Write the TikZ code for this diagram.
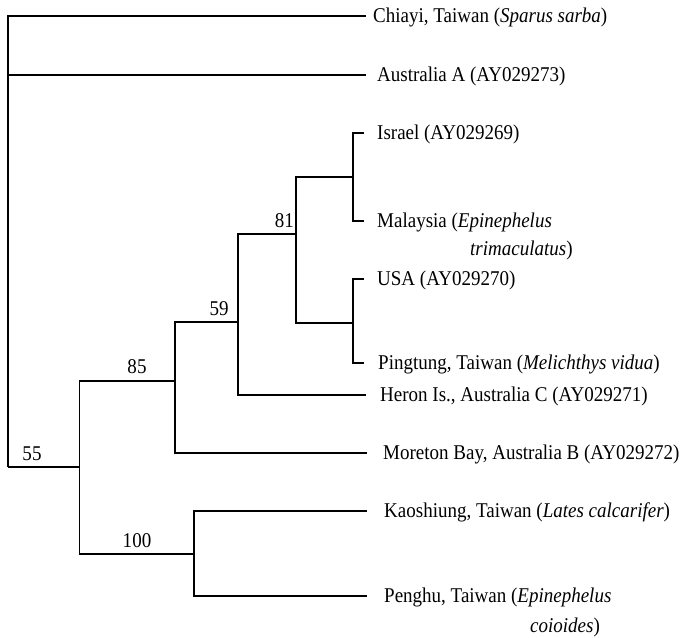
\documentclass[tikz,border=0pt]{standalone}
\usepackage{fontspec}
\setmainfont{Liberation Serif}
\newcommand\lbl[1]{\scalebox{0.905}[1]{#1}}
\begin{document}
\begin{tikzpicture}[x=1pt,y=-1pt,
  branch/.style={line width=1.1pt, black},
  leaf/.style={anchor=base west, inner sep=0pt, font=\fontsize{21}{24}\selectfont},
  boot/.style={anchor=base, inner sep=0pt, font=\fontsize{21}{24}\selectfont}]
\fill[white] (0,0) rectangle (682,637);
\useasboundingbox (0,0) rectangle (682,637);
% leaf tips
\coordinate (chi) at (366,16);
\coordinate (ausA) at (366,75);
\coordinate (isr) at (364,133);
\coordinate (mal) at (364,221);
\coordinate (usa) at (364,279);
\coordinate (pin) at (364,363);
\coordinate (her) at (366,395);
\coordinate (mor) at (367,453);
\coordinate (kao) at (367,511);
\coordinate (pen) at (367,596);
% internal nodes
\coordinate (root) at (8,467);
\coordinate (n55) at (79.5,467);
\coordinate (n85) at (175,381);
\coordinate (n100) at (194,554);
\coordinate (n59) at (238,322);
\coordinate (n81) at (296,234);
\coordinate (nIM) at (353,177);
\coordinate (nUP) at (353,323);
% branches
\draw[branch] (root) |- (chi);
\draw[branch] (root) |- (ausA);
\draw[branch] (root) -- (n55);
\draw[branch] (n55) |- (n85);
\draw[branch] (n55) |- (n100);
\draw[branch] (n85) |- (n59);
\draw[branch] (n85) |- (mor);
\draw[branch] (n59) |- (n81);
\draw[branch] (n59) |- (her);
\draw[branch] (n81) |- (nIM);
\draw[branch] (n81) |- (nUP);
\draw[branch] (nIM) |- (isr);
\draw[branch] (nIM) |- (mal);
\draw[branch] (nUP) |- (usa);
\draw[branch] (nUP) |- (pin);
\draw[branch] (n100) |- (kao);
\draw[branch] (n100) |- (pen);
% bootstrap values
\node[boot] (b55) at (32,460) {\lbl{55}};
\node[boot] (b85) at (137,373.5) {\lbl{85}};
\node[boot] (b100) at (137,547) {\lbl{100}};
\node[boot] (b59) at (219,315) {\lbl{59}};
\node[boot, anchor=base east] (b81) at (294,227) {\lbl{81}};
% leaf labels
\node[leaf] (tchi) at (373,23) {\lbl{Chiayi, Taiwan (\textit{Sparus sarba})}};
\node[leaf] (tausA) at (377,81.5) {\lbl{Australia A (AY029273)}};
\node[leaf] (tisr) at (377,139.5) {\lbl{Israel (AY029269)}};
\node[leaf] (tmal) at (377,227.5) {\lbl{Malaysia (\textit{Epinephelus}}};
\node[leaf] (tmal2) at (470,255.5) {\lbl{\textit{trimaculatus})}};
\node[leaf] (tusa) at (377,285.5) {\lbl{USA (AY029270)}};
\node[leaf] (tpin) at (378,369.5) {\lbl{Pingtung, Taiwan (\textit{Melichthys vidua})}};
\node[leaf] (ther) at (380,401.5) {\lbl{Heron Is., Australia C (AY029271)}};
\node[leaf] (tmor) at (383,459.5) {\lbl{Moreton Bay, Australia B (AY029272)}};
\node[leaf] (tkao) at (384,517.5) {\lbl{Kaoshiung, Taiwan (\textit{Lates calcarifer})}};
\node[leaf] (tpen) at (384,602.5) {\lbl{Penghu, Taiwan (\textit{Epinephelus}}};
\node[leaf] (tpen2) at (530,632.5) {\lbl{\textit{coioides})}};
\end{tikzpicture}
\end{document}
